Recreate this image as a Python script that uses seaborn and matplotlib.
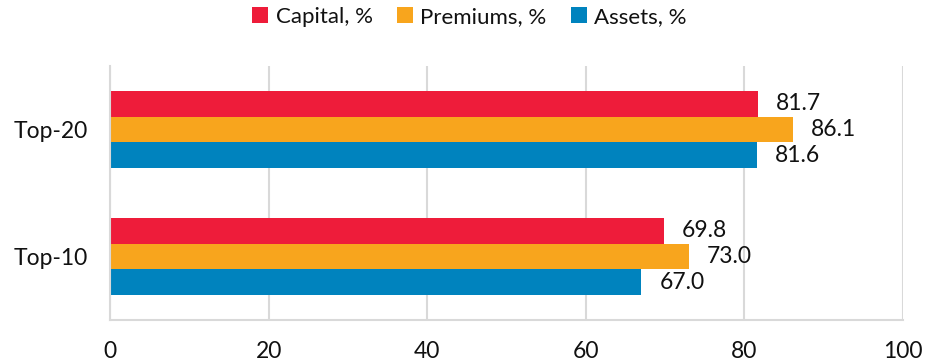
import matplotlib
matplotlib.use("Agg")
import matplotlib.pyplot as plt
import seaborn as sns
import pandas as pd
from matplotlib.patches import Patch

groups = ["Top-20", "Top-10"]
series = ["Capital, %", "Premiums, %", "Assets, %"]
capital = [81.7, 69.8]
premiums = [86.1, 73.0]
assets = [81.6, 67.0]
x_ticks = [0, 20, 40, 60, 80, 100]
colors = ["#EE1C3A", "#F8A51D", "#0083BE"]

rows = []
for name, vals in zip(series, [capital, premiums, assets]):
    for g, v in zip(groups, vals):
        rows.append({"group": g, "series": name, "value": v})
df = pd.DataFrame(rows)

sns.set_theme(style="white")
plt.rcParams["font.family"] = ["Lato", "DejaVu Sans"]

fig = plt.figure(figsize=(9.43, 3.61), dpi=100)
ax = fig.add_axes([110 / 943, 1 - 320 / 361, 793 / 943, 254 / 361])

sns.barplot(data=df, y="group", x="value", hue="series", order=groups,
            hue_order=series, palette=colors, orient="h", width=0.614,
            dodge=True, ax=ax, legend=False, errorbar=None, saturation=1,
            linewidth=0)

for container in ax.containers:
    ax.bar_label(container, fmt="%.1f", padding=13, fontsize=16.5, color="#111111")

ax.set_xlim(0, 100)
ax.set_ylim(1.5, -0.5)
ax.set_xticks(x_ticks)
ax.set_xticklabels([str(t) for t in x_ticks], fontsize=16.5, color="#111111")
ax.tick_params(axis="x", length=6, width=1.5, color="#D9D9D9", pad=9)
ax.tick_params(axis="y", length=0, pad=16, labelsize=16.5, labelcolor="#111111")
ax.set_xlabel("")
ax.set_ylabel("")

ax.grid(axis="x", color="#D9D9D9", linewidth=1.5)
ax.grid(axis="y", visible=False)
ax.set_axisbelow(True)
for side in ["top", "right"]:
    ax.spines[side].set_visible(False)
for side in ["left", "bottom"]:
    ax.spines[side].set_color("#D9D9D9")
    ax.spines[side].set_linewidth(1.5)

handles = [Patch(facecolor=c, edgecolor="none") for c in colors]
fig.legend(handles, series, loc="center", bbox_to_anchor=(0.498, 1 - 17 / 361),
           ncol=3, frameon=False, fontsize=16, handlelength=0.7, handleheight=0.7,
           handletextpad=0.35, columnspacing=1.1, labelcolor="#111111")

fig.savefig("out.png", dpi=100)
